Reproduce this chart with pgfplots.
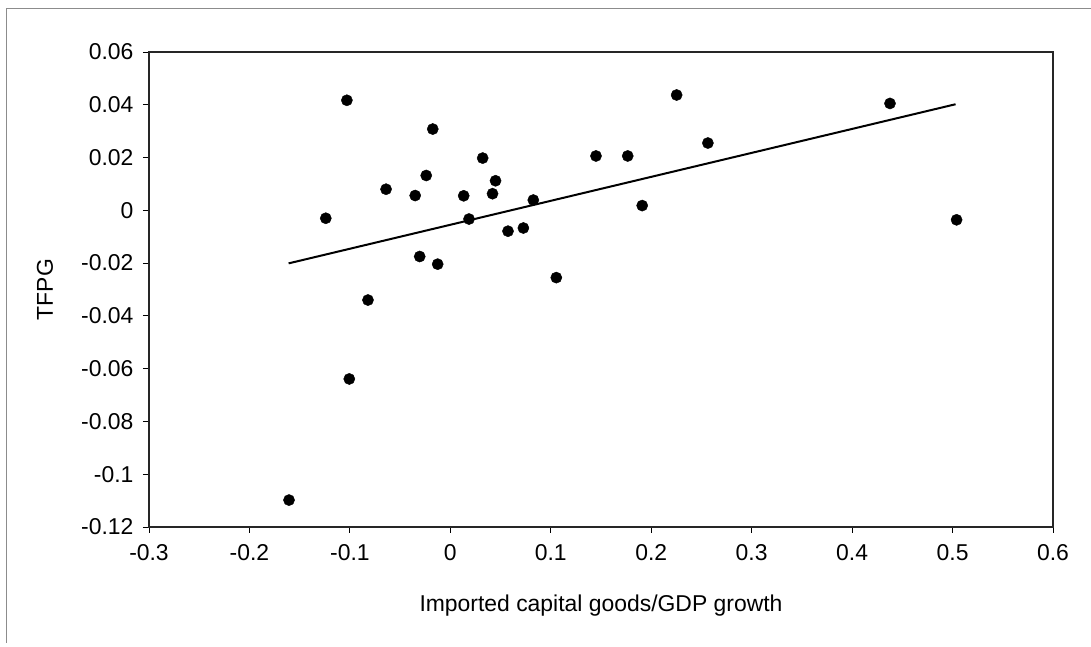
\documentclass[border=0pt]{standalone}
\usepackage{fontspec}
\setmainfont{Liberation Sans}
\usepackage{pgfplots}
\usepackage{pgfplotstable}
\pgfplotsset{compat=1.18}
\pgfplotstableread{
x y
-0.1606 -0.1098
-0.1240 -0.0030
-0.1030 0.0417
-0.1006 -0.0639
-0.0820 -0.0340
-0.0640 0.0080
-0.0350 0.0056
-0.0305 -0.0175
-0.0240 0.0132
-0.0175 0.0308
-0.0126 -0.0204
0.0133 0.0055
0.0186 -0.0033
0.0322 0.0198
0.0420 0.0063
0.0450 0.0112
0.0574 -0.0079
0.0727 -0.0067
0.0826 0.0039
0.1055 -0.0255
0.1450 0.0206
0.1766 0.0206
0.1910 0.0018
0.2253 0.0437
0.2564 0.0255
0.4377 0.0405
0.5040 -0.0036
}\pts
\begin{document}
\begin{tikzpicture}[x=1bp,y=1bp]
\path[use as bounding box] (-149,-120) rectangle (942,527);
\draw[black!45, line width=0.8bp] (-143,-116) -- (-143,519) -- (942,519);
\begin{axis}[
  at={(0,0)}, anchor=south west,
  scale only axis, width=904bp, height=475bp,
  xmin=-0.3, xmax=0.6, ymin=-0.12, ymax=0.06,
  xtick={-0.3,-0.2,-0.1,0,0.1,0.2,0.3,0.4,0.5,0.6},
  xticklabels={-0.3,-0.2,-0.1,0,0.1,0.2,0.3,0.4,0.5,0.6},
  ytick={-0.12,-0.1,-0.08,-0.06,-0.04,-0.02,0,0.02,0.04,0.06},
  yticklabels={-0.12,-0.1,-0.08,-0.06,-0.04,-0.02,0,0.02,0.04,0.06},
  tick pos=left, tick align=outside, major tick length=6bp,
  tick style={black, line width=0.8bp},
  axis line style={black!85, line width=1.3bp},
  tick label style={font=\fontsize{23}{27}\selectfont},
  yticklabel style={xshift=-6bp},
  xticklabel style={yshift=-8bp},
  xlabel={Imported capital goods/GDP growth},
  ylabel={TFPG},
  label style={font=\fontsize{23}{27}\selectfont},
  xlabel style={at={(axis description cs:0.5,0)}, anchor=base, yshift=-85bp},
  ylabel style={at={(axis description cs:-0.1062,0.5)}, anchor=base, rotate=0},
  clip=false,
]
\addplot[only marks, mark=*, mark size=5.6bp, mark options={fill=black, draw=black}] table[x=x,y=y] {\pts};
\addplot[black, line width=2bp] coordinates {(-0.161,-0.0201) (0.503,0.0402)};
\end{axis}
\end{tikzpicture}
\end{document}
